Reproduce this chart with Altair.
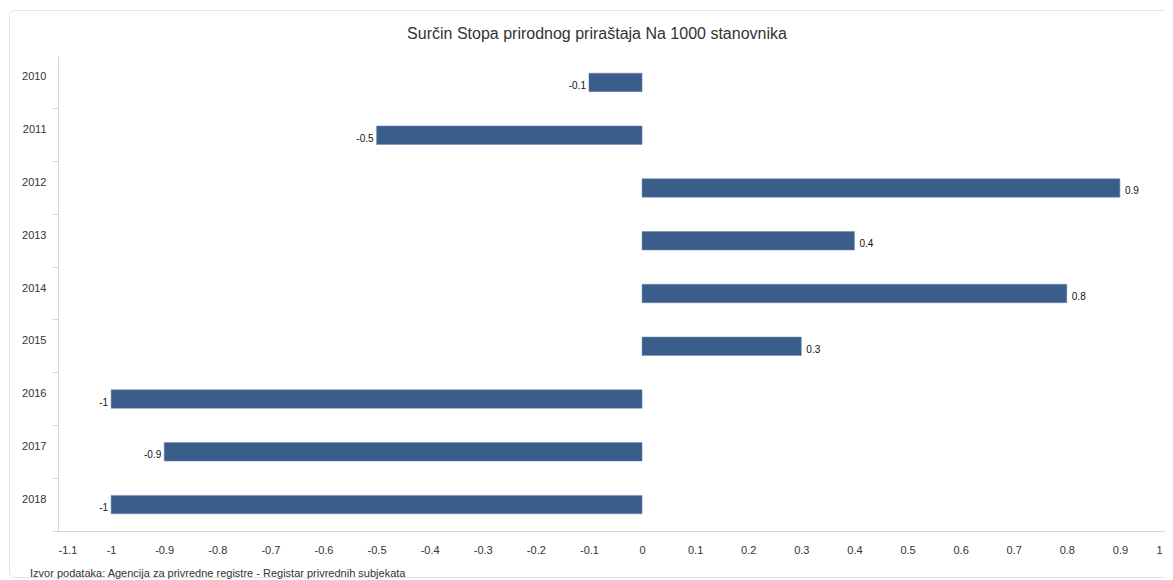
import altair as alt
import pandas as pd

years = ["2010", "2011", "2012", "2013", "2014", "2015", "2016", "2017", "2018"]
values = [-0.1, -0.5, 0.9, 0.4, 0.8, 0.3, -1.0, -0.9, -1.0]
x_ticks = [-1.1, -1.0, -0.9, -0.8, -0.7, -0.6, -0.5, -0.4, -0.3, -0.2, -0.1,
           0.0, 0.1, 0.2, 0.3, 0.4, 0.5, 0.6, 0.7, 0.8, 0.9, 1.0]
title_text = "Surčin Stopa prirodnog priraštaja Na 1000 stanovnika"
source_text = "Izvor podataka: Agencija za privredne registre - Registar privrednih subjekata"

df = pd.DataFrame({
    "year": years,
    "value": values,
    "label": [f"{v:g}" for v in values],
})

FONT = "Liberation Sans"
AXIS_COLOR = "#ccd6eb"
BAR_COLOR = "#3a5d8c"

x_enc = alt.X(
    "value:Q",
    scale=alt.Scale(domain=[-1.1, 1.0], nice=False, zero=False, range=[0, 1115]),
    axis=alt.Axis(
        values=x_ticks,
        labelExpr="toString(datum.value)",
        title=None,
        grid=False,
        ticks=False,
        labelPadding=13,
        labelFontSize=11,
        labelColor="#333333",
        domainColor=AXIS_COLOR,
        labelFont=FONT,
        labelOffset={"condition": {"test": "datum.value >= 1", "value": -11}, "value": 0},
    ),
)
y_enc = alt.Y(
    "year:N",
    sort=years,
    scale=alt.Scale(paddingInner=0.65, paddingOuter=0.325),
    axis=alt.Axis(
        title=None,
        bandPosition=1.93,
        tickSize=6,
        tickColor=AXIS_COLOR,
        domainColor=AXIS_COLOR,
        labelOffset=-5,
        labelPadding=6,
        labelFontSize=11,
        labelColor="#333333",
        labelFont=FONT,
    ),
)

base = alt.Chart(df)

bars = base.mark_bar(color=BAR_COLOR, stroke="#6e89ad", strokeWidth=0.5).encode(
    x=x_enc,
    x2=alt.datum(0),
    y=y_enc,
)

neg_labels = base.transform_filter("datum.value < 0").mark_text(
    align="right", dx=-3, dy=3.5, fontSize=10, font=FONT, color="#111111"
).encode(x="value:Q", y=alt.Y("year:N", sort=years), text="label:N")

pos_labels = base.transform_filter("datum.value >= 0").mark_text(
    align="left", dx=5, dy=3.5, fontSize=10, font=FONT, color="#111111"
).encode(x="value:Q", y=alt.Y("year:N", sort=years), text="label:N")

frame = alt.Chart(alt.Data(values=[{}])).mark_rect(
    fill=None, fillOpacity=0, stroke="#e4e4e4", strokeWidth=1, cornerRadius=5
).encode(
    x=alt.value(-48.5), x2=alt.value(1112),
    y=alt.value(-45.5), y2=alt.value(521.5),
)

title = alt.Chart(alt.Data(values=[{}])).mark_text(
    align="center", baseline="middle", fontSize=16, font=FONT, color="#333333"
).encode(
    x=alt.value(539), y=alt.value(-22), text=alt.value(title_text),
)

source = alt.Chart(alt.Data(values=[{}])).mark_text(
    align="left", baseline="alphabetic", fontSize=11, font=FONT, color="#333333"
).encode(
    x=alt.value(-28), y=alt.value(521), text=alt.value(source_text),
)

chart = alt.layer(frame, bars, neg_labels, pos_labels, title, source).properties(
    width=1107,
    height=475,
    autosize=alt.AutoSizeParams(type="none"),
    padding={"left": 50, "top": 48, "right": 0, "bottom": 49},
).configure_view(stroke=None)

chart.save("out.html", embed_options={"renderer": "svg", "actions": False})
